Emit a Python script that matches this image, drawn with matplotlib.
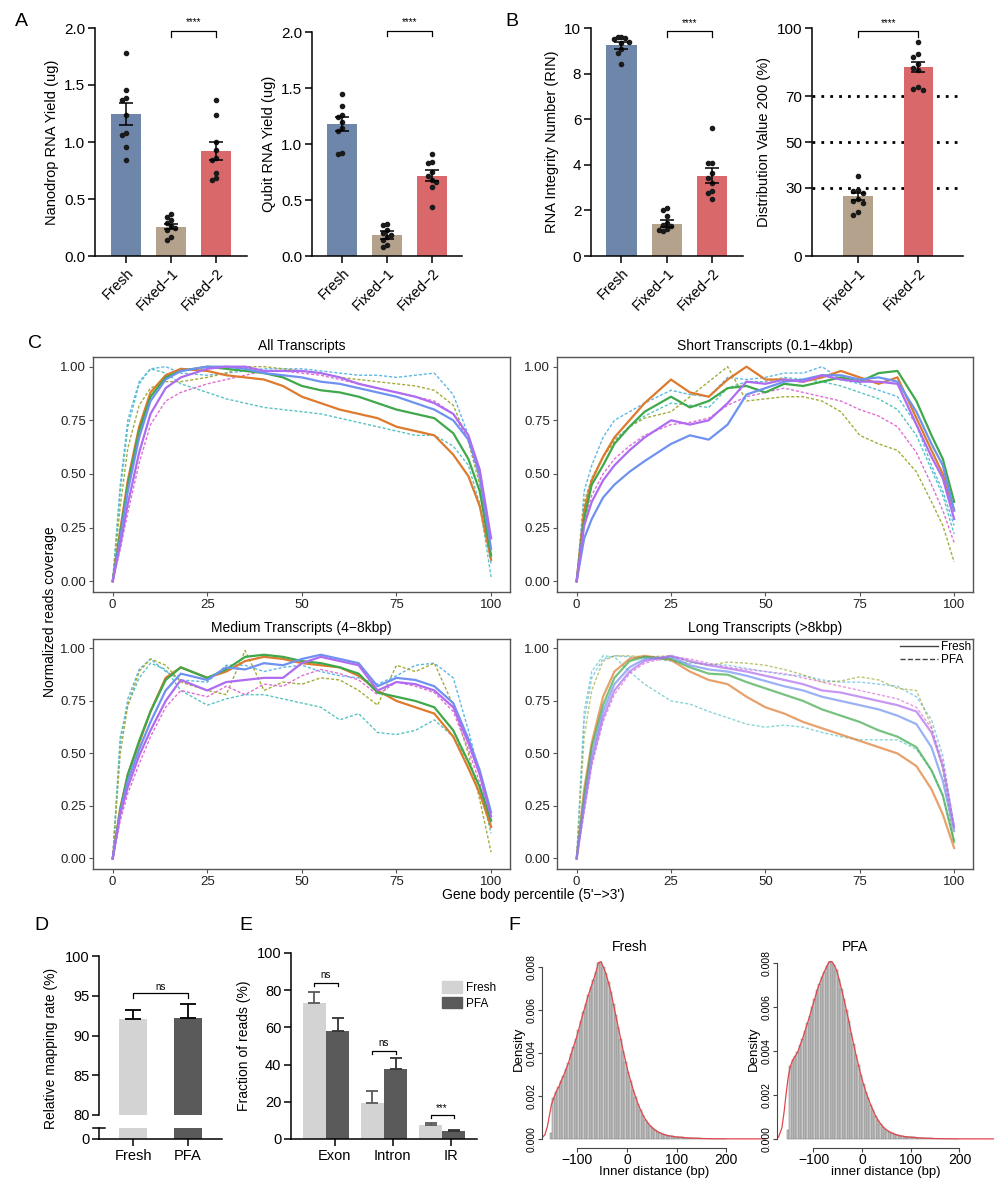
import numpy as np
import matplotlib.pyplot as plt
from matplotlib.lines import Line2D
from matplotlib.patches import Patch

plt.rcParams['font.family'] = ['Liberation Sans', 'DejaVu Sans']

# ---------------- data ----------------
groups3 = ['Fresh', 'Fixed\u22121', 'Fixed\u22122']
groups2 = ['Fixed\u22121', 'Fixed\u22122']

nano_mean = [1.245, 0.258, 0.922]
nano_sem = [0.10, 0.02, 0.082]
nano_pts = [[1.78, 1.46, 1.39, 1.37, 1.24, 1.08, 1.06, 0.96, 0.84],
            [0.366, 0.34, 0.316, 0.287, 0.264, 0.246, 0.228, 0.164, 0.14],
            [1.37, 1.24, 1.0, 0.93, 0.86, 0.84, 0.73, 0.68, 0.67]]

qubit_mean = [1.18, 0.188, 0.718]
qubit_sem = [0.06, 0.035, 0.048]
qubit_pts = [[1.45, 1.34, 1.26, 1.24, 1.20, 1.14, 1.12, 0.92, 0.91],
             [0.286, 0.277, 0.232, 0.209, 0.188, 0.167, 0.143, 0.098, 0.083],
             [0.91, 0.84, 0.83, 0.75, 0.71, 0.68, 0.665, 0.62, 0.435]]

rin_mean = [9.24, 1.41, 3.53]
rin_sem = [0.14, 0.15, 0.33]
rin_pts = [[9.6, 9.6, 9.55, 9.5, 9.4, 9.35, 9.1, 8.9, 8.4],
           [2.1, 2.0, 1.75, 1.45, 1.35, 1.3, 1.2, 1.15, 1.1],
           [5.61, 4.1, 4.07, 3.63, 3.41, 3.22, 2.83, 2.78, 2.5]]

dv_mean = [26.1, 82.9]
dv_sem = [1.7, 2.4]
dv_pts = [[35.3, 29.0, 28.3, 27.5, 24.9, 24.3, 23.4, 19.5, 18.0],
          [93.9, 88.7, 87.3, 84.3, 82.4, 81.7, 74.1, 73.2, 72.9]]
dv_refs = [30, 50, 70]

# gene body coverage, sampled at these percentiles
PCT = [0, 2, 4, 7, 10, 14, 18, 25, 30, 35, 40, 45, 50, 55, 60, 65, 70, 75, 80, 85, 90, 94, 97, 100]

all_orange = [0, .24, .47, .72, .88, .96, .99, .98, .96, .95, .94, .91, .86, .83, .80, .78, .76, .72, .70, .68, .59, .49, .35, .10]
all_green = [0, .22, .45, .70, .86, .95, .98, 1.0, .99, .98, .97, .95, .91, .89, .88, .86, .83, .80, .78, .76, .69, .57, .42, .12]
all_blue = [0, .20, .42, .67, .84, .94, .98, 1.0, 1.0, .99, .97, .96, .95, .93, .92, .90, .88, .86, .83, .80, .75, .66, .50, .15]
all_purple = [0, .17, .36, .60, .78, .90, .95, .99, 1.0, 1.0, .98, .98, .98, .97, .95, .92, .90, .88, .86, .83, .78, .68, .52, .20]
all_cyan = [0, .45, .75, .93, .99, 1.0, .97, .96, .97, .98, .99, .99, .99, .98, .97, .96, .96, .95, .96, .97, .87, .68, .47, .08]
all_teal = [0, .42, .72, .92, .99, .97, .92, .88, .85, .83, .81, .80, .79, .78, .76, .74, .72, .70, .68, .68, .63, .54, .36, .02]
all_olive = [0, .35, .62, .82, .90, .93, .93, .95, .97, 1.0, 1.0, .99, .98, .97, .95, .94, .93, .92, .91, .89, .82, .65, .45, .10]
all_magenta = [0, .15, .32, .55, .73, .84, .88, .92, .94, .96, .98, .98, .97, .96, .94, .92, .90, .88, .86, .84, .78, .66, .48, .15]

short_orange = [0, .33, .47, .58, .67, .75, .83, .94, .88, .86, .94, 1.0, .94, .94, .93, .95, .98, .95, .92, .95, .76, .61, .50, .33]
short_green = [0, .29, .45, .54, .64, .72, .79, .86, .81, .84, .90, .91, .88, .92, .91, .93, .95, .93, .97, .98, .84, .68, .57, .37]
short_blue = [0, .20, .29, .39, .45, .51, .56, .64, .68, .66, .73, .87, .90, .93, .94, .96, .96, .94, .95, .93, .79, .64, .54, .33]
short_purple = [0, .26, .37, .47, .54, .61, .67, .75, .73, .75, .83, .93, .92, .94, .93, .96, .94, .93, .93, .92, .73, .58, .48, .29]
short_cyan = [0, .42, .54, .67, .75, .79, .83, .89, .87, .86, .95, .94, .95, .97, .97, 1.0, .94, .92, .89, .86, .73, .54, .42, .26]
short_teal = [0, .35, .47, .58, .66, .72, .77, .83, .82, .81, .90, .93, .93, .95, .94, .93, .91, .88, .85, .80, .68, .52, .40, .22]
short_olive = [0, .37, .48, .58, .65, .72, .76, .79, .86, .93, 1.0, .84, .85, .86, .86, .84, .79, .68, .64, .61, .51, .37, .26, .09]
short_magenta = [0, .28, .40, .50, .57, .63, .68, .73, .74, .76, .82, .86, .88, .90, .88, .86, .84, .80, .77, .72, .60, .45, .33, .18]

med_orange = [0, .24, .40, .55, .70, .86, .91, .86, .89, .94, .96, .95, .93, .92, .91, .87, .80, .75, .72, .69, .58, .43, .31, .15]
med_green = [0, .23, .40, .56, .70, .85, .91, .86, .90, .96, .97, .96, .94, .93, .91, .88, .79, .77, .75, .72, .61, .46, .34, .18]
med_blue = [0, .22, .37, .52, .65, .80, .88, .85, .91, .90, .93, .92, .95, .97, .95, .93, .82, .86, .85, .82, .74, .57, .42, .22]
med_purple = [0, .21, .34, .49, .61, .75, .85, .80, .84, .85, .86, .86, .93, .96, .94, .92, .80, .84, .83, .80, .72, .55, .40, .20]
med_cyan = [0, .55, .76, .90, .95, .89, .85, .84, .92, .92, .89, .91, .92, .89, .87, .86, .83, .87, .92, .93, .86, .61, .40, .15]
med_teal = [0, .58, .73, .86, .93, .90, .80, .73, .76, .78, .78, .76, .74, .72, .66, .69, .60, .59, .61, .66, .58, .46, .34, .12]
med_olive = [0, .50, .73, .89, .95, .92, .84, .80, .78, .99, .80, .84, .83, .86, .85, .80, .73, .92, .89, .93, .73, .50, .28, .03]
med_magenta = [0, .18, .31, .45, .58, .72, .80, .77, .82, .78, .83, .82, .87, .90, .88, .85, .78, .84, .82, .79, .70, .52, .36, .16]

long_orange = [0, .33, .55, .77, .89, .95, .965, .945, .89, .85, .83, .77, .72, .69, .65, .62, .59, .56, .53, .50, .44, .33, .21, .05]
long_green = [0, .30, .53, .73, .86, .94, .96, .95, .91, .88, .875, .84, .81, .78, .75, .71, .68, .65, .61, .58, .53, .42, .30, .08]
long_blue = [0, .27, .49, .70, .83, .91, .95, .96, .92, .90, .89, .87, .845, .82, .80, .77, .75, .73, .71, .68, .64, .53, .37, .13]
long_purple = [0, .24, .46, .67, .80, .89, .94, .965, .94, .92, .905, .89, .87, .85, .83, .80, .79, .77, .75, .73, .70, .60, .44, .15]
long_cyan = [0, .66, .86, .95, .965, .96, .955, .94, .93, .925, .92, .905, .89, .875, .87, .85, .84, .84, .83, .82, .77, .66, .49, .15]
long_teal = [0, .70, .89, .965, .96, .89, .83, .75, .735, .70, .67, .64, .625, .635, .625, .60, .58, .565, .565, .565, .52, .42, .30, .08]
long_olive = [0, .58, .80, .94, .965, .965, .96, .965, .935, .92, .935, .93, .92, .90, .875, .84, .845, .865, .85, .81, .80, .63, .42, .07]
long_magenta = [0, .22, .44, .65, .78, .88, .93, .96, .95, .93, .91, .90, .89, .88, .86, .84, .82, .80, .78, .76, .72, .62, .46, .14]

map_groups = ['Fresh', 'PFA']
map_mean = [92.1, 92.2]
map_sem = [1.1, 1.7]

frac_cats = ['Exon', 'Intron', 'IR']
frac_fresh = [72.9, 19.3, 7.7]
frac_fresh_sem = [6.2, 6.6, 0.9]
frac_pfa = [58.2, 37.5, 4.1]
frac_pfa_sem = [6.6, 6.1, 0.9]

# inner distance histograms (density x 1e-3), 5 bp bins from -155
HIST_START = -155
HIST_BIN = 5
fresh_hist = [0.26, 1.90, 2.20, 2.40, 2.70, 2.95, 3.25, 3.55, 3.95, 4.30,
              4.65, 5.05, 5.50, 5.90, 6.30, 6.70, 7.05, 7.40, 7.75, 8.20,
              8.25, 8.00, 7.70, 7.30, 6.85, 6.30, 5.75, 5.20, 4.65, 4.10,
              3.60, 3.10, 2.70, 2.30, 1.95, 1.62, 1.35, 1.10, 0.90, 0.74,
              0.60, 0.49, 0.40, 0.33, 0.28, 0.23, 0.19, 0.16, 0.14, 0.12,
              0.10, 0.09, 0.08, 0.07, 0.06, 0.05, 0.045, 0.04, 0.035, 0.03,
              0.025, 0.022, 0.02, 0.018, 0.016, 0.014, 0.012, 0.011, 0.01, 0.009, 0.008]
pfa_hist = [0.40, 3.30, 3.60, 3.75, 3.95, 4.25, 4.55, 4.90, 5.25, 5.60,
            6.00, 6.35, 6.75, 7.05, 7.35, 7.60, 7.85, 8.05, 8.05, 7.90,
            7.65, 7.25, 6.80, 6.35, 5.85, 5.35, 4.80, 4.30, 3.80, 3.35,
            2.90, 2.50, 2.15, 1.85, 1.55, 1.30, 1.05, 0.86, 0.70, 0.56,
            0.46, 0.38, 0.31, 0.26, 0.21, 0.18, 0.15, 0.13, 0.11, 0.10,
            0.09, 0.08, 0.07, 0.06, 0.05, 0.045, 0.04, 0.035, 0.03, 0.025,
            0.022, 0.02, 0.018, 0.016, 0.014, 0.012, 0.011, 0.01, 0.009, 0.008, 0.007]
kde_tail_x = [-185, -172, -165, -160, -156, -152]
fresh_kde_tail = [0.0, 0.03, 0.2, 0.6, 1.1, 1.6]
pfa_kde_tail = [0.0, 0.08, 0.5, 1.3, 2.1, 2.8]
kde_end_x = [240, 300]
kde_end_y = [0.006, 0.003]

C_BLUE = '#6E86AA'
C_TAN = '#B5A28C'
C_RED = '#D9686A'
C_LIGHT = '#D3D3D3'
C_DARK = '#5A5A5A'

# ---------------- figure ----------------
W, H = 995, 1178
fig = plt.figure(figsize=(W / 100, H / 100), dpi=100)


def px_axes(l, t, r, b):
    return fig.add_axes([l / W, 1 - b / H, (r - l) / W, (b - t) / H])


def swarm(vals, thr, step):
    placed, offs = [], []
    for v in vals:
        for o in [0, -step, step, -2 * step, 2 * step, -3 * step, 3 * step]:
            if all(abs(v - pv) >= thr or abs(o - po) > step * 0.9 for pv, po in placed):
                break
        placed.append((v, o))
        offs.append(o)
    return np.array(offs)


def bracket(ax, x1, x2, y, h, txt, fs=7, dy=0.0):
    ax.plot([x1, x1, x2, x2], [y - h, y, y, y - h], color='black', lw=0.9, clip_on=False)
    ax.text((x1 + x2) / 2, y + dy, txt, ha='center', va='bottom', fontsize=fs, clip_on=False)


def dot_bar(ax, labels, means, sems, pts, colors, ylim, yticks, yfmt, ylabel, xlim, width, thr):
    x = np.arange(len(labels))
    ax.bar(x, means, width=width, color=colors, zorder=2)
    for i, vals in enumerate(pts):
        ax.plot(x[i] + swarm(vals, thr, 0.085), vals, 'o', ms=3.0, color='#1a1a1a', zorder=3)
    ax.errorbar(x, means, yerr=sems, fmt='none', ecolor='black', elinewidth=1.1,
                capsize=5, capthick=1.1, zorder=4)
    ax.set_xlim(*xlim)
    ax.set_ylim(*ylim)
    ax.set_yticks(yticks)
    ax.set_yticklabels([yfmt.format(v) for v in yticks], fontsize=11)
    ax.set_xticks(x)
    ax.set_xticklabels(labels, rotation=45, ha='right', rotation_mode='anchor', fontsize=10.5)
    ax.set_ylabel(ylabel, fontsize=10.5, labelpad=4)
    for s in ['top', 'right']:
        ax.spines[s].set_visible(False)
    for s in ['left', 'bottom']:
        ax.spines[s].set_linewidth(1.1)
    ax.tick_params(direction='out', length=5, width=1.1, pad=2)


# ---- A ----
axA1 = px_axes(95, 28, 247, 256)
dot_bar(axA1, groups3, nano_mean, nano_sem, nano_pts, [C_BLUE, C_TAN, C_RED],
        (0, 2.0), [0, 0.5, 1.0, 1.5, 2.0], '{:.1f}', 'Nanodrop RNA Yield (ug)', (-0.69, 2.68), 0.667, 0.045)
bracket(axA1, 1, 2, 1.975, 0.05, '****', dy=0.03)

axA2 = px_axes(312, 32, 462, 256)
dot_bar(axA2, groups3, qubit_mean, qubit_sem, qubit_pts, [C_BLUE, C_TAN, C_RED],
        (0, 2.0), [0, 0.5, 1.0, 1.5, 2.0], '{:.1f}', 'Qubit RNA Yield (ug)', (-0.67, 2.67), 0.667, 0.045)
bracket(axA2, 1, 2, 2.01, 0.05, '****', dy=0.03)

# ---- B ----
axB1 = px_axes(591, 28, 743, 256)
dot_bar(axB1, groups3, rin_mean, rin_sem, rin_pts, [C_BLUE, C_TAN, C_RED],
        (0, 10), [0, 2, 4, 6, 8, 10], '{:d}', 'RNA Integrity Number (RIN)', (-0.67, 2.68), 0.667, 0.22)
bracket(axB1, 1, 2, 9.85, 0.25, '****', dy=0.15)

axB2 = px_axes(812, 28, 963, 256)
for v in dv_refs:
    axB2.axhline(v, color='black', lw=2.0, ls=(0, (1, 2.2)), zorder=1)
dot_bar(axB2, groups2, dv_mean, dv_sem, dv_pts, [C_TAN, C_RED],
        (0, 100), [0, 30, 50, 70, 100], '{:d}', 'Distribution Value 200 (%)', (-0.76, 1.74), 0.49, 2.2)
bracket(axB2, 0, 1, 98.5, 2.5, '****', dy=1.5)

for lab, xp in [('A', 21), ('B', 512)]:
    fig.text(xp / W, 1 - 22 / H, lab, fontsize=14, ha='center', va='center')

# ---- C ----
COL = {'orange': '#DE7A2E', 'green': '#3FA84B', 'blue': '#6F92F0', 'purple': '#AE6CF0',
       'cyan': '#55B4E6', 'teal': '#4FC1BE', 'olive': '#A0A830', 'magenta': '#DF66D4'}


def coverage(ax, title, curves, alpha=1.0):
    for vals, cname, dashed in curves:
        if dashed:
            ax.plot(PCT, vals, color=COL[cname], lw=1.0, ls=(0, (2.2, 1.4)), alpha=alpha * 0.95)
        else:
            ax.plot(PCT, vals, color=COL[cname], lw=1.6, alpha=alpha)
    ax.set_xlim(-5.2, 105)
    ax.set_ylim(-0.05, 1.045)
    ax.set_xticks([0, 25, 50, 75, 100])
    ax.set_yticks([0, 0.25, 0.5, 0.75, 1.0])
    ax.set_yticklabels(['0.00', '0.25', '0.50', '0.75', '1.00'])
    ax.tick_params(labelsize=9.5, length=3, color='#555', colors='#222', pad=2)
    for s in ax.spines.values():
        s.set_color('#555')
        s.set_linewidth(1.0)
    ax.set_title(title, fontsize=10, pad=5)


def curve_set(o, g, b, p, c, t, ol, m):
    return [(c, 'cyan', True), (t, 'teal', True), (ol, 'olive', True), (m, 'magenta', True),
            (o, 'orange', False), (g, 'green', False), (b, 'blue', False), (p, 'purple', False)]


axC1 = px_axes(93, 357, 510, 592)
coverage(axC1, 'All Transcripts', curve_set(all_orange, all_green, all_blue, all_purple,
                                            all_cyan, all_teal, all_olive, all_magenta))
axC2 = px_axes(557, 357, 973, 592)
coverage(axC2, 'Short Transcripts (0.1\u22124kbp)', curve_set(short_orange, short_green, short_blue, short_purple,
                                                             short_cyan, short_teal, short_olive, short_magenta))
axC3 = px_axes(93, 639, 510, 869)
coverage(axC3, 'Medium Transcripts (4\u22128kbp)', curve_set(med_orange, med_green, med_blue, med_purple,
                                                            med_cyan, med_teal, med_olive, med_magenta))
axC4 = px_axes(557, 639, 973, 869)
coverage(axC4, 'Long Transcripts (>8kbp)', curve_set(long_orange, long_green, long_blue, long_purple,
                                                     long_cyan, long_teal, long_olive, long_magenta), alpha=0.7)
axC4.legend(handles=[Line2D([], [], color='#444', lw=1), Line2D([], [], color='#444', lw=1, ls='--')],
            labels=['Fresh', 'PFA'], loc='upper right', frameon=False, fontsize=8.5,
            handlelength=3.2, borderaxespad=0.1, labelspacing=0.05, handletextpad=0.2, borderpad=0.1)

fig.text(50 / W, 1 - 612 / H, 'Normalized reads coverage', rotation=90, ha='center', va='center', fontsize=10)
fig.text(533 / W, 1 - 895 / H, "Gene body percentile (5'\u2212>3')", ha='center', va='center', fontsize=10)
fig.text(35 / W, 1 - 343 / H, 'C', fontsize=14, ha='center', va='center')

# ---- D ----
axDt = px_axes(99, 956, 222, 1115)
axDb = px_axes(99, 1128, 222, 1139)
xd = np.arange(2)
for ax in (axDt, axDb):
    ax.bar(xd, map_mean, width=0.5, color=[C_LIGHT, C_DARK])
    ax.set_xlim(-0.62, 1.62)
    for s in ['top', 'right']:
        ax.spines[s].set_visible(False)
    ax.spines['left'].set_linewidth(1.1)
    ax.tick_params(direction='out', length=5, width=1.1, labelsize=10.5, pad=2)
axDt.errorbar(xd, map_mean, yerr=[[0, 0], map_sem], fmt='none', ecolor='black', elinewidth=1.3,
              capsize=6, capthick=1.3)
axDt.set_ylim(80, 100)
axDt.set_yticks([80, 85, 90, 95, 100])
axDt.spines['bottom'].set_visible(False)
axDt.set_xticks([])
axDt.set_ylabel('Relative mapping rate (%)', fontsize=10, labelpad=4)
axDt.yaxis.set_label_coords(-0.33, 0.42)
bracket(axDt, 0, 1, 95.3, 0.6, 'ns', dy=0.2)
axDb.set_ylim(0, 8)
axDb.set_yticks([0])
axDb.set_xticks(xd)
axDb.set_xticklabels(map_groups)
axDb.spines['bottom'].set_linewidth(1.1)
axDb.plot([-0.045, 0.05], [1, 1], color='black', lw=1.1, transform=axDb.transAxes, clip_on=False)
fig.text(41 / W, 1 - 926 / H, 'D', fontsize=14, ha='center', va='center')

# ---- E ----
axE = px_axes(291, 953, 477, 1139)
xe = np.arange(3)
axE.bar(xe - 0.2, frac_fresh, width=0.4, color=C_LIGHT)
axE.bar(xe + 0.2, frac_pfa, width=0.4, color=C_DARK)
axE.errorbar(xe - 0.2, frac_fresh, yerr=[[0] * 3, frac_fresh_sem], fmt='none', ecolor=C_DARK,
             elinewidth=1.3, capsize=4.5, capthick=1.3)
axE.errorbar(xe + 0.2, frac_pfa, yerr=[[0] * 3, frac_pfa_sem], fmt='none', ecolor='#333',
             elinewidth=1.3, capsize=4.5, capthick=1.3)
axE.set_xlim(-0.6, 2.6)
axE.set_ylim(0, 100)
axE.set_yticks([0, 20, 40, 60, 80, 100])
axE.set_xticks(xe + 0.15)
axE.set_xticklabels(frac_cats)
for s in ['top', 'right']:
    axE.spines[s].set_visible(False)
for s in ['left', 'bottom']:
    axE.spines[s].set_linewidth(1.1)
axE.tick_params(direction='out', length=5, width=1.1, labelsize=10.5, pad=2)
axE.set_ylabel('Fraction of reads (%)', fontsize=10, labelpad=4)
bracket(axE, -0.2, 0.2, 84.1, 1.8, 'ns', dy=1.5)
bracket(axE, 0.8, 1.2, 47.5, 1.8, 'ns', dy=1.5)
bracket(axE, 1.8, 2.2, 13.0, 1.8, '***', dy=0.8)
axE.legend(handles=[Patch(color=C_LIGHT), Patch(color=C_DARK)], labels=map_groups,
           loc='upper left', bbox_to_anchor=(0.78, 0.88), frameon=False, fontsize=8.5,
           handlelength=1.7, handleheight=1.1, labelspacing=0.25, handletextpad=0.3, borderpad=0)
fig.text(246 / W, 1 - 926 / H, 'E', fontsize=14, ha='center', va='center')


# ---- F ----
def inner_hist(ax, heights, tail, title, xlabel, xlim, ylim, title_x):
    h = np.array(heights) * 1e-3
    left = HIST_START + HIST_BIN * np.arange(len(h))
    ax.bar(left, h, width=HIST_BIN, align='edge', color='#C8C8C8', edgecolor='#777777', lw=0.35)
    kx = list(kde_tail_x) + list(left[1:] + HIST_BIN / 2) + kde_end_x
    ky = list(np.array(tail) * 1e-3) + list(h[1:]) + list(np.array(kde_end_y) * 1e-3)
    ax.plot(kx, ky, color='#E0474C', lw=0.9)
    ax.set_xlim(*xlim)
    ax.set_ylim(*ylim)
    ax.set_yticks([0, 0.002, 0.004, 0.006, 0.008])
    ax.set_yticklabels(['0.000', '0.002', '0.004', '0.006', '0.008'], rotation=90, va='center', fontsize=7.5)
    ax.set_xticks([-100, 0, 100, 200])
    ax.set_xticklabels(['\u2212100', '0', '100', '200'], fontsize=8)
    for s in ['top', 'right']:
        ax.spines[s].set_visible(False)
    ax.spines['left'].set_bounds(0, 0.008)
    ax.spines['bottom'].set_bounds(-100, 200)
    ax.spines['bottom'].set_position(('outward', 4))
    for s in ['left', 'bottom']:
        ax.spines[s].set_color('#444')
        ax.spines[s].set_linewidth(0.8)
    ax.tick_params(length=3, width=0.8, color='#444', pad=1)
    ax.set_ylabel('Density', fontsize=9.5, labelpad=1)
    ax.set_xlabel(xlabel, fontsize=9.5, labelpad=-1)
    ax.text(title_x, 1.005, title, transform=ax.transAxes, ha='center', va='bottom', fontsize=10)


axF1 = px_axes(542, 955, 766, 1142)
inner_hist(axF1, fresh_hist, fresh_kde_tail, 'Fresh', 'Inner distance (bp)', (-171, 280), (-0.00014, 0.00856), 0.39)
axF2 = px_axes(777, 955, 995, 1142)
inner_hist(axF2, pfa_hist, pfa_kde_tail, 'PFA', 'inner distance (bp)', (-175, 273), (-0.000136, 0.00835), 0.36)
fig.text(514 / W, 1 - 926 / H, 'F', fontsize=14, ha='center', va='center')

fig.savefig('out.png', dpi=100)
